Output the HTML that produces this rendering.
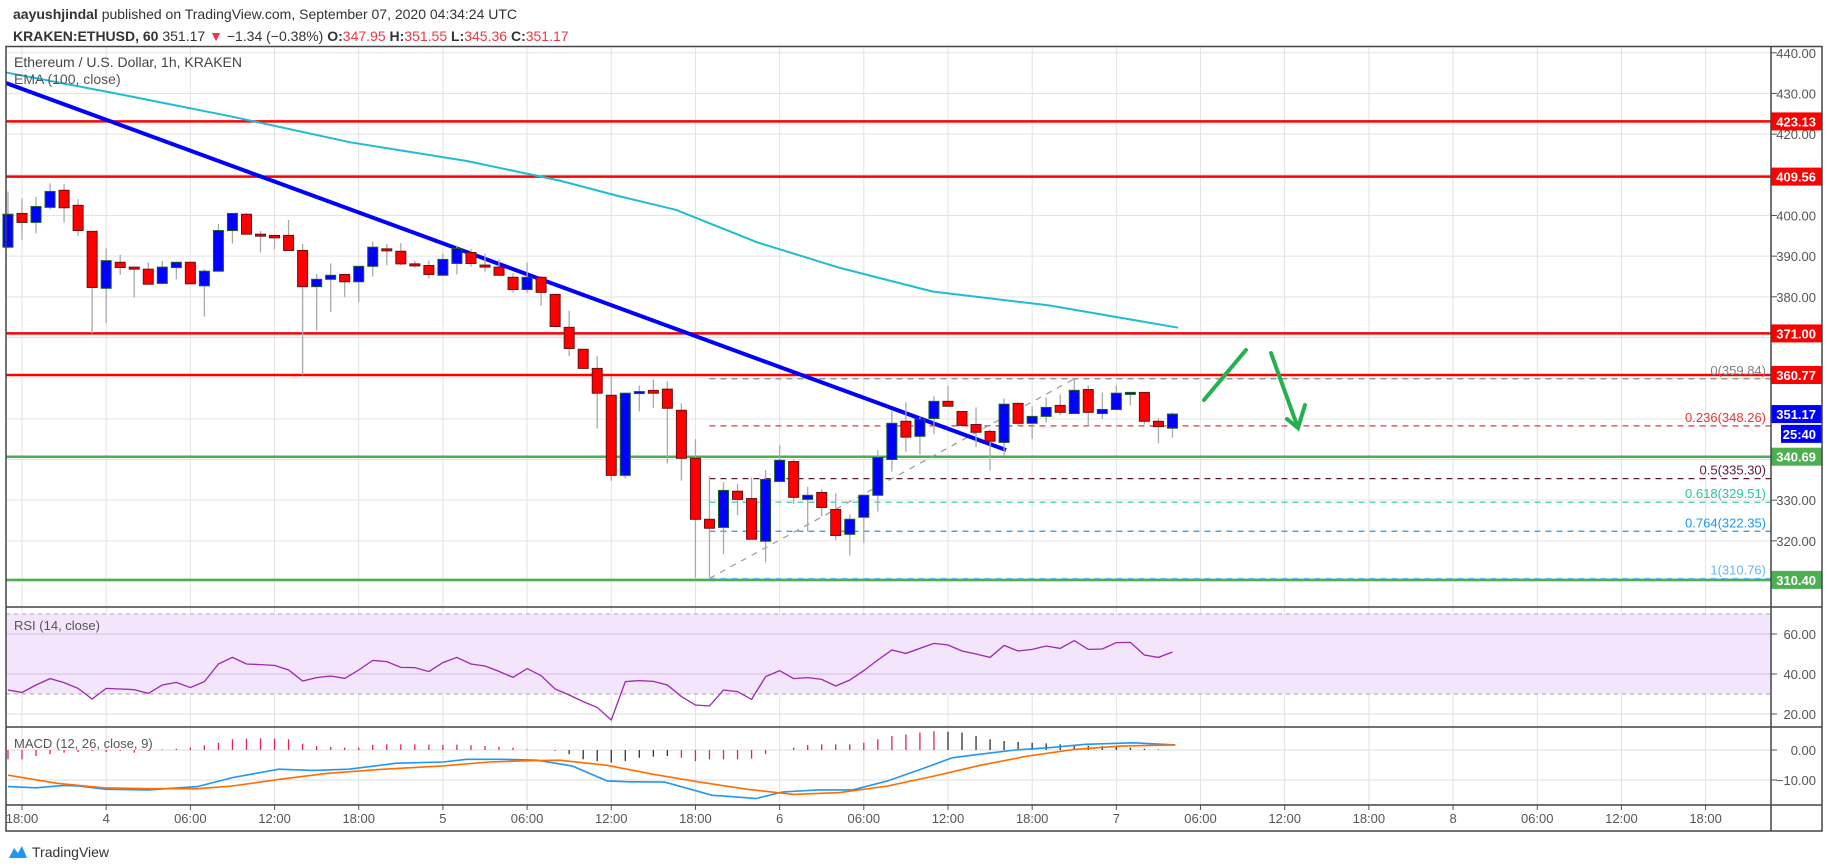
<!DOCTYPE html>
<html><head><meta charset="utf-8"><style>
html,body{margin:0;padding:0;background:#fff;width:1828px;height:868px;overflow:hidden}
svg{display:block;font-family:"Liberation Sans",sans-serif}
</style></head><body>
<svg id="c" width="1828" height="868" viewBox="0 0 1828 868" xmlns="http://www.w3.org/2000/svg">
<text x="13" y="19" font-size="14" fill="#333"><tspan font-weight="bold">aayushjindal</tspan> published on TradingView.com, September 07, 2020 04:34:24 UTC</text>
<text x="13" y="41" font-size="14" fill="#333"><tspan font-weight="bold">KRAKEN:ETHUSD, 60</tspan> 351.17 <tspan fill="#f23645">▼</tspan> −1.34 (−0.38%) <tspan font-weight="bold">O:</tspan><tspan fill="#f23645">347.95</tspan> <tspan font-weight="bold">H:</tspan><tspan fill="#f23645">351.55</tspan> <tspan font-weight="bold">L:</tspan><tspan fill="#f23645">345.36</tspan> <tspan font-weight="bold">C:</tspan><tspan fill="#f23645">351.17</tspan></text>
<g id="grid"></g>
<g id="rsiBand"></g>
<g id="levels"></g>
<g id="ema"></g>
<g id="candles"></g>
<g id="ind"></g>
<g id="axis"></g>
<g id="frame" fill="none" stroke="#444" stroke-width="1.5">
<rect x="6" y="46.5" width="1816" height="784.5"/>
<line x1="1771" y1="46.5" x2="1771" y2="831"/>
<line x1="6" y1="607" x2="1822" y2="607"/>
<line x1="6" y1="727" x2="1822" y2="727"/>
<line x1="6" y1="805" x2="1822" y2="805"/>
</g>
<text x="14" y="67" font-size="14" fill="#444">Ethereum / U.S. Dollar, 1h, KRAKEN</text>
<text x="14" y="84" font-size="14" fill="#555">EMA (100, close)</text>
<text x="14" y="630" font-size="13" fill="#555">RSI (14, close)</text>
<text x="14" y="748" font-size="13" fill="#555">MACD (12, 26, close, 9)</text>
<g>
<path d="M9 858 L14 848 L18 853 L22 846 L27 858 Z" fill="#2196f3"/>
<text x="32" y="857" font-size="14" fill="#333">TradingView</text>
</g>
</svg>
<script>
// ---- data ----
const candleOpen=[392.2,400.5,398.3,402,406.2,402.5,396.1,382.1,388.5,387.3,386.8,383.3,387.2,388.5,382.7,386.3,396.3,400.3,395.4,395.1,395.1,391.4,382.5,384.3,385.5,383.7,387.5,391.8,391.2,388.1,387.7,385.3,388.2,390.9,387.8,387.3,384.8,381.8,384.8,380.6,372.5,367.1,362.4,355.8,336.1,356.7,357.0,357.3,352.1,340.3,325.3,323.3,332.2,330.4,319.9,334.6,339.5,330.2,331.9,327.7,321.6,325.8,331.2,340.0,349.4,345.7,350.1,354.3,351.8,348.6,346.9,344.2,353.8,348.9,350.6,353.3,351.3,357.2,351.3,352.3,356.5,356.5,349.4,347.7];
const candleClose=[400.3,398.3,402.2,405.9,401.9,396.3,382.3,388.9,387.2,386.8,383.1,387.3,388.5,383.2,386.3,396.3,400.5,395.4,395.1,394.5,391.4,382.5,384.3,385.3,383.7,387.5,392.2,391.6,388.1,387.9,385.5,389.2,391.9,388.2,387.7,385.3,381.8,384.8,381.1,372.7,367.3,362.4,356.3,336.1,356.3,356.7,356.3,352.6,340.3,325.3,323.1,332.4,330.2,320.4,335.1,339.8,330.7,331.2,328.2,321.3,325.3,331.2,340.5,348.9,345.5,349.9,354.3,353.1,348.4,346.7,344.5,353.6,348.9,350.6,352.8,351.6,357.0,351.6,352.3,356.3,356.5,349.4,348.1,351.17];
const candleHigh=[405.9,404.2,404.6,407.9,407.7,404,396.1,391.9,390.3,387.3,388.5,388.8,388.5,388.5,386.8,397.9,400.5,400.7,396.2,395.1,398.9,393,385.6,388.2,385.5,387.5,393.6,393,393.2,388.9,388.9,390.7,392.5,391.7,390.5,389.2,385.8,388.4,385.1,380.6,376.6,367.1,365.4,360.4,356.3,358.2,359.7,359.2,353.8,345.0,335.9,334.4,334.0,335.6,337.4,343.5,340.0,333.3,332.7,331.7,326.5,331.2,342.3,352.0,354.1,350.5,355.6,358.1,351.8,352.8,347.4,355.0,354.1,353.1,355.3,356.0,359.7,358.2,356.5,358.2,356.5,356.5,350.1,351.55];
const candleLow=[391.9,394.0,395.6,401.5,398.3,395,371.0,373.6,385.4,379.8,383.1,383.3,384.3,383.2,375.1,386.3,393.1,395.4,390.9,391.7,391.4,360.8,371.7,376.3,380.0,378.6,385.0,387.7,387.7,387.2,384.5,385.3,385.5,387.4,386.2,385.3,381,380.9,377.8,372.7,365.4,362.4,347.6,334.8,335.3,351.8,352.7,339.0,334.8,311.0,311.0,316.7,326.3,320.4,314.7,334.6,329.1,322.3,326.1,320.2,316.4,319.5,327.2,337.0,341.9,341.2,346.2,353.1,348.1,343.0,337.3,341.0,348.1,345.1,349.1,350.9,351.3,348.1,350.0,352.3,353.3,348.6,344.0,345.36];
const emaIdx=[-1.2,6.7,15,23.4,31.7,38.3,42.5,46.6,52.4,58.3,64.9,73.2,82.4];
const emaVal=[435.2,430.0,424.3,418.0,413.4,408.6,404.8,401.4,393.4,387.1,381.3,377.9,372.4];
const rsiVal=[32,30.8,34.5,37.7,35.7,32.8,27.5,32.8,32.5,32.2,30.3,34.5,35.8,33.2,36.2,45,48.3,45,44.7,44.3,42,36.5,38.2,39,37.8,42,46.8,46.2,43.3,43.2,41.2,45.7,48.3,45,44,41.3,38.3,42.7,39.2,32.5,29.5,26.2,23.3,17,36.2,36.7,36.3,34.5,28.7,24.5,24,32,31.2,27.3,38.7,41.7,37.7,38.2,37.3,34,37,41.7,47,52,50.3,52.8,55.3,54.5,51.5,50,48.3,54.3,51.5,52.3,54,52.8,56.7,52.3,52.5,55.7,55.8,49.5,48.3,51];
const macdIdx=[-1,1,3,4,6,9,12.5,15,18.3,20.8,23.3,26.7,30,31.7,34.2,36.7,39.2,41.7,43.3,45.8,49.2,50.8,52.3,54.2,56.7,59.2,61.7,64.2,66.3,68.3,70.8,73.3,75.8,79.2,82.2];
const macdVal=[-12.2,-12.6,-11.8,-12.0,-13.1,-13.3,-12.2,-9.2,-6.4,-6.8,-6.4,-4.4,-4.0,-3.1,-3.1,-3.4,-5.3,-10.3,-10.6,-10.7,-15.1,-15.6,-16.2,-14.0,-13.3,-13.3,-10.3,-6.2,-2.6,-1.4,0,0.8,1.9,2.4,1.7];
const sigIdx=[-1,2.5,5.8,9.2,12.5,15,18.3,21.7,25.8,30,33.3,35.8,38.3,41.7,45,48.3,51.7,55,58.3,61.7,65,68.3,71.7,75,78.3,82.2];
const sigVal=[-8.4,-11.1,-12.6,-12.9,-12.9,-12.0,-9.8,-7.8,-6.4,-5.3,-4.0,-3.6,-3.4,-5.1,-8.1,-10.7,-13.1,-14.8,-14.2,-12.0,-8.7,-5.1,-2.0,0.2,1.3,1.7];
const histVal=[-3.1,-3.1,-2.0,-1.4,-0.9,-0.7,-0.3,-0.7,-0.3,-0.9,-0.3,0.2,0.4,0.8,1.6,2.4,3.6,3.8,3.9,3.8,3.6,2.1,1.3,1.0,0.8,0.8,1.7,1.9,1.9,1.9,1.8,1.7,1.8,1.6,1.3,1.1,0.8,0.2,0,-0.3,-1.4,-3.1,-3.7,-4.2,-3.7,-2.6,-2.2,-2.0,-2.6,-3.7,-3.1,-3.1,-3.1,-2.9,-1.4,0,0.8,1.7,1.9,1.9,1.9,2.4,3.6,4.7,5.2,5.8,6.3,6.1,5.8,4.7,3.6,3.0,2.7,2.4,2.2,1.9,1.7,1.4,1.3,1.0,0.8,0.4,0.2,0];
const histDarkRanges=[[39,46],[66,82]];
const priceTicks=[440,430,420,400,390,380,330,320];
const gridPrices=[440,430,420,410,400,390,380,370,360,350,340,330,320,310];
const timeLabels=["18:00","4","06:00","12:00","18:00","5","06:00","12:00","18:00","6","06:00","12:00","18:00","7","06:00","12:00","18:00","8","06:00","12:00","18:00"];
const redLevels=[423.13,409.56,371.00,360.77];
const greenLevels=[340.69,310.40];
const fibRatio=["0","0.236","0.5","0.618","0.764","1"];
const fibPrice=[359.84,348.26,335.30,329.51,322.35,310.76];
const rsiTicks=[60,40,20];
const macdTicks=[0,-10];
// ---- scales ----
const X0=6,X1=1771;
const xI=i=>22+14.03*i;
const yP=p=>52.8+(440-p)*4.067;
const yR=v=>634+(60-v)*2.0;
const yM=v=>750-3.0*v;
const NS="http://www.w3.org/2000/svg";
function mk(t,a,parent){const e=document.createElementNS(NS,t);for(const k in a)e.setAttribute(k,a[k]);parent.appendChild(e);return e;}
const G=id=>document.getElementById(id);
const grid=G('grid');
gridPrices.forEach(p=>{const l=mk('line',{x1:X0,x2:X1,y1:yP(p),y2:yP(p),stroke:'#e3e3e3','stroke-width':1},grid);

});
timeLabels.forEach((t,k)=>{const x=xI(6*(k));const l=mk('line',{x1:x,x2:x,y1:47,y2:805,stroke:'#e3e3e3','stroke-width':1},grid);

});
const rb=G('rsiBand');
const band=mk('rect',{x:X0,y:yR(70),width:X1-X0,height:yR(30)-yR(70),fill:'#f3e5fc'},rb);


[70,30].forEach(v=>{const l=mk('line',{x1:X0,x2:X1,y1:yR(v),y2:yR(v),stroke:'#b0a0b8','stroke-dasharray':'4 4'},rb);

});
rsiTicks.forEach(v=>{const l=mk('line',{x1:X0,x2:X1,y1:yR(v),y2:yR(v),stroke:v===20?'#ddd':'#d4c0dc'},rb);

});
macdTicks.forEach(v=>{const l=mk('line',{x1:X0,x2:X1,y1:yM(v),y2:yM(v),stroke:'#ddd'},rb);

});
const lv=G('levels');
redLevels.forEach(p=>{const l=mk('line',{x1:X0,x2:X1,y1:yP(p),y2:yP(p),stroke:'#ff0000','stroke-width':2.5},lv);

});
greenLevels.forEach(p=>{const l=mk('line',{x1:X0,x2:X1,y1:yP(p),y2:yP(p),stroke:'#4caf50','stroke-width':2.5},lv);

});
const fibCol=['#808080','#e53935','#5c1a3a','#26c6a0','#2196f3','#64b5f6'];
const fx0=xI(49);
fibPrice.forEach((p,k)=>{const l=mk('line',{x1:fx0,x2:X1,y1:yP(p),y2:yP(p),stroke:fibCol[k],'stroke-width':1.2,'stroke-dasharray':'6 5'},lv);


const t=mk('text',{x:1766,y:yP(p)-4,'text-anchor':'end','font-size':13,fill:fibCol[k]},lv);t.textContent=fibRatio[k]+'('+p.toFixed(2)+')';

});
const diag=mk('line',{x1:fx0,y1:yP(fibPrice[5]),x2:xI(75),y2:yP(fibPrice[0]),stroke:'#999','stroke-width':1.2,'stroke-dasharray':'6 6'},lv);


const em=G('ema');
const emaPath=mk('path',{d:emaIdx.map((i,k)=>(k?'L':'M')+xI(i).toFixed(1)+' '+yP(emaVal[k]).toFixed(1)).join(''),fill:'none',stroke:'#1fbcd2','stroke-width':2,'stroke-linejoin':'round'},em);


const tl=mk('line',{x1:6,y1:83,x2:1006,y2:450,stroke:'#0000ff','stroke-width':4},em);


const cg=G('candles');
candleOpen.forEach((o,k)=>{const i=k-1,c=candleClose[k],x=xI(i),up=c>=o;
const w=mk('line',{x1:x,x2:x,y1:yP(candleHigh[k]),y2:yP(candleLow[k]),stroke:'#aaa','stroke-width':1.3},cg);


const top=yP(Math.max(o,c)),h=Math.max(2,Math.abs(yP(o)-yP(c)));
const b=mk('rect',{x:x-5,y:top,width:10,height:h,fill:up?'#0000ff':'#ff0000',stroke:up?'#1b5e20':'#6d0f0f','stroke-width':1},cg);

});
const ar=mk('g',{stroke:'#22b14c','stroke-width':4,fill:'none','stroke-linecap':'round'},cg);


mk('path',{d:'M1204 400 L1246 350'},ar);
mk('path',{d:'M1271 353 L1298 428 M1287 419 L1298 428 L1305 405'},ar);
const ind=G('ind');
const rsiPath=mk('path',{d:rsiVal.map((v,k)=>(k?'L':'M')+xI(k-1).toFixed(1)+' '+yR(v).toFixed(1)).join(''),fill:'none',stroke:'#9c27b0','stroke-width':1.3},ind);


histVal.forEach((v,k)=>{const i=k-1;const dark=histDarkRanges.some(r=>i>=r[0]&&i<=r[1]);const col=dark?'#333':'#e91e63';
const b=mk('line',{x1:xI(i),x2:xI(i),y1:yM(0),y2:yM(v),stroke:col,'stroke-width':1.3},ind);

});
const mp=mk('path',{d:macdIdx.map((i,k)=>(k?'L':'M')+xI(i).toFixed(1)+' '+yM(macdVal[k]).toFixed(1)).join(''),fill:'none',stroke:'#2196f3','stroke-width':1.6},ind);


const sp=mk('path',{d:sigIdx.map((i,k)=>(k?'L':'M')+xI(i).toFixed(1)+' '+yM(sigVal[k]).toFixed(1)).join(''),fill:'none',stroke:'#ff6d00','stroke-width':1.6},ind);


const ax=G('axis');
function tick(y,label,name){mk('line',{x1:1771,x2:1777,y1:y,y2:y,stroke:'#555'},ax);
const t=mk('text',{x:1816,y:y+5,'text-anchor':'end','font-size':13,fill:'#555'},ax);t.textContent=label;

}
priceTicks.forEach(p=>tick(yP(p),p.toFixed(2),'price-tick-label'));
rsiTicks.forEach(v=>tick(yR(v),v.toFixed(2),'rsi-tick-label'));
macdTicks.forEach(v=>tick(yM(v),v===0?'0.00':'\u221210.00','macd-tick-label'));
function badge(p,col,label,name,dx){const y=yP(p);
mk('rect',{x:1771+(dx||0),y:y-9,width:51-(dx||0),height:18,fill:col},ax);
const t=mk('text',{x:1816,y:y+5,'text-anchor':'end','font-size':13,'font-weight':'bold',fill:'#fff'},ax);t.textContent=label;

}
redLevels.forEach(p=>badge(p,'#ff0000',p.toFixed(2),'resistance-badge'));
greenLevels.forEach(p=>badge(p,'#4caf50',p.toFixed(2),'support-badge'));
badge(351.17,'#0000ff','351.17','last-price-badge');
badge(346.3,'#0000ff','25:40','countdown-badge',10);
timeLabels.forEach((t,k)=>{const x=xI(6*k);mk('line',{x1:x,x2:x,y1:805,y2:810,stroke:'#555'},ax);
const e=mk('text',{x:x,y:823,'text-anchor':'middle','font-size':13,fill:'#555'},ax);e.textContent=t;

});
</script>
</body></html>
